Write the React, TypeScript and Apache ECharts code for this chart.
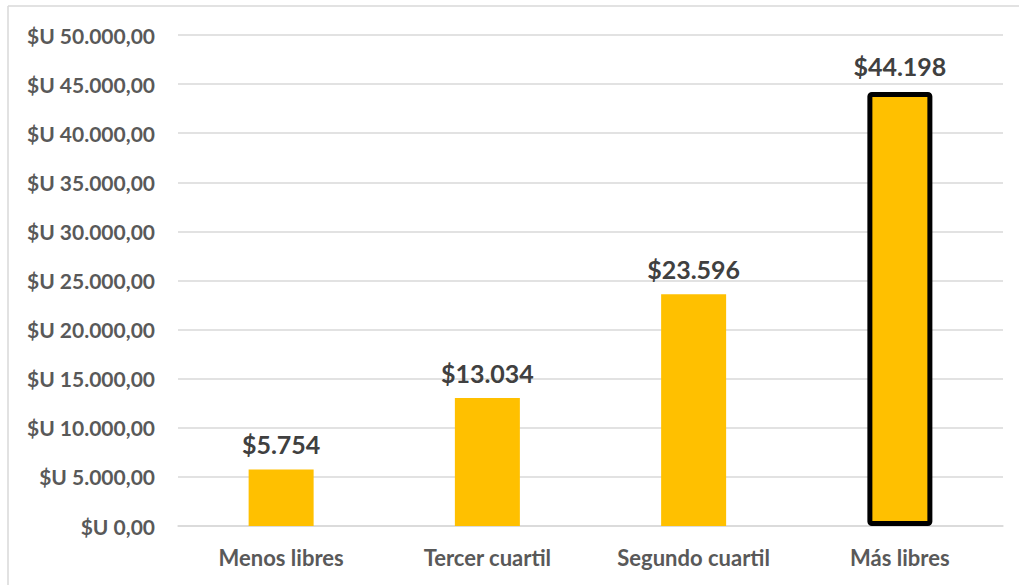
import React, { useEffect, useRef } from "react";
import * as echarts from "echarts";

const categories = ["Menos libres", "Tercer cuartil", "Segundo cuartil", "Más libres"];
const values = [5754, 13034, 23596, 44198];
const yTicks = [0, 5000, 10000, 15000, 20000, 25000, 30000, 35000, 40000, 45000, 50000];

const FONT = "Lato, 'Open Sans', sans-serif";

function fmtThousands(n: number): string {
  return Math.round(n).toString().replace(/\B(?=(\d{3})+(?!\d))/g, ".");
}

export default function App() {
  const ref = useRef<HTMLDivElement>(null);
  useEffect(() => {
    if (!ref.current) return;
    const chart = echarts.init(ref.current, null, { renderer: "svg" });
    chart.setOption({
      animation: false,
      backgroundColor: "#ffffff",
      graphic: [
        { type: "line", shape: { x1: 8, y1: 6, x2: 1019, y2: 6 }, style: { stroke: "#d9d9d9", lineWidth: 1.5 } },
        { type: "line", shape: { x1: 8, y1: 6, x2: 8, y2: 585 }, style: { stroke: "#d9d9d9", lineWidth: 1.5 } },
      ],
      grid: { left: 178, right: 16, top: 35, bottom: 59, containLabel: false },
      xAxis: {
        type: "category",
        data: categories,
        axisTick: { show: false },
        axisLine: { show: true, lineStyle: { color: "#d9d9d9", width: 1.5 } },
        axisLabel: { color: "#595959", fontFamily: FONT, fontWeight: "bold", fontSize: 22, margin: 20 },
      },
      yAxis: {
        type: "value",
        min: yTicks[0],
        max: yTicks[yTicks.length - 1],
        interval: 5000,
        axisLine: { show: false },
        axisTick: { show: false },
        splitLine: { lineStyle: { color: "#d9d9d9", width: 1.5 } },
        axisLabel: {
          color: "#595959",
          fontFamily: FONT,
          fontWeight: "bold",
          fontSize: 21,
          margin: 23,
          formatter: (v: number) => "$U " + fmtThousands(v) + ",00",
        },
      },
      series: [
        {
          type: "bar",
          barWidth: 65,
          data: values.map((v, i) =>
            i === values.length - 1
              ? { value: v, itemStyle: { color: "#ffc000", borderColor: "#000000", borderWidth: 5, borderRadius: 2 } }
              : { value: v, itemStyle: { color: "#ffc000" } }
          ),
          label: {
            show: true,
            position: "top",
            distance: 13,
            color: "#404040",
            fontFamily: FONT,
            fontWeight: "bold",
            fontSize: 25,
            formatter: (p: any) => "$" + fmtThousands(p.value),
          },
        },
      ],
    });
    return () => chart.dispose();
  }, []);
  return <div ref={ref} style={{ width: 1019, height: 585, position: "absolute", left: 0, top: 0 }} />;
}
